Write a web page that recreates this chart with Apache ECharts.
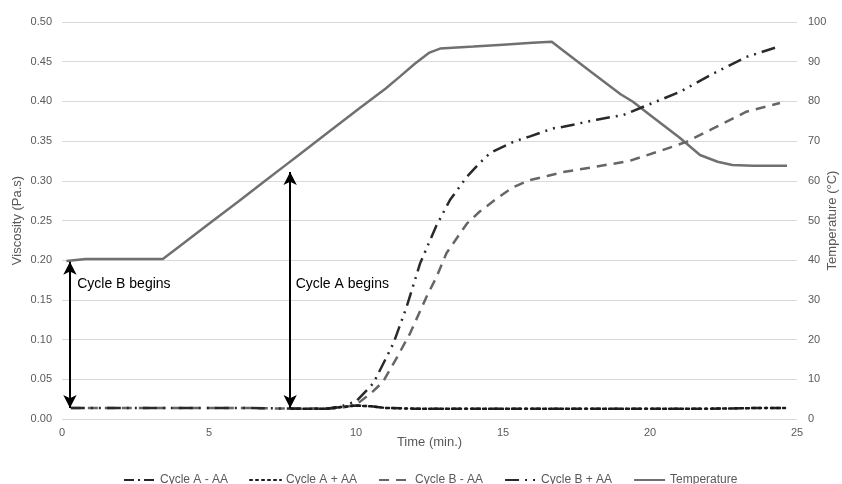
<!DOCTYPE html>
<html>
<head>
<meta charset="utf-8">
<script src="https://cdn.jsdelivr.net/npm/echarts@6/dist/echarts.min.js"></script>
<style>html,body{margin:0;padding:0;background:#fff}#c{width:842px;height:484px}</style>
</head>
<body>
<div id="c"></div>
<script>
// ---- data ----
var xTicks = [0, 5, 10, 15, 20, 25];

var aMinusTime = [7.8, 8.5, 9.0, 9.5, 10.0, 10.5, 11.0, 12, 14, 16, 18, 20, 22, 24, 24.6];
var aMinusVisc = [0.013, 0.013, 0.013, 0.015, 0.017, 0.016, 0.014, 0.013, 0.013, 0.013, 0.013, 0.013, 0.013, 0.014, 0.014];

var aPlusTime = [7.8, 8.5, 9.0, 9.5, 10.0, 10.5, 11.0, 12, 14, 16, 18, 20, 22, 24, 24.7];
var aPlusVisc = [0.013, 0.013, 0.013, 0.015, 0.017, 0.016, 0.014, 0.013, 0.013, 0.013, 0.013, 0.013, 0.013, 0.014, 0.014];

var bMinusTime = [0.3, 2, 4, 6, 8, 9.0, 9.5, 10.0, 10.5, 10.92, 11.4, 11.84, 12.4, 12.74, 13.08, 13.77, 14.2, 14.8, 15.35, 15.92, 16.5, 17.05, 18.19, 19.3, 20.45, 21.24, 22.15, 23.28, 24.42];
var bMinusVisc = [0.014, 0.014, 0.014, 0.014, 0.013, 0.013, 0.014, 0.018, 0.032, 0.047, 0.078, 0.108, 0.154, 0.179, 0.209, 0.246, 0.261, 0.278, 0.292, 0.301, 0.306, 0.311, 0.318, 0.325, 0.339, 0.349, 0.366, 0.387, 0.398];

var bPlusTime = [0.3, 2, 4, 6, 8, 9.0, 9.5, 10.0, 10.59, 11.27, 11.72, 12.18, 12.74, 13.2, 13.77, 14.2, 14.56, 15.35, 15.92, 16.7, 17.05, 18.19, 19.1, 19.89, 21.02, 22.15, 23.28, 24.37];
var bPlusVisc = [0.014, 0.014, 0.014, 0.014, 0.013, 0.013, 0.016, 0.022, 0.045, 0.095, 0.141, 0.196, 0.244, 0.276, 0.305, 0.322, 0.335, 0.349, 0.356, 0.366, 0.368, 0.377, 0.383, 0.395, 0.412, 0.435, 0.456, 0.469];

var tempTime = [0.15, 0.8, 3.43, 4, 5, 6, 7, 7.65, 8, 9, 10.14, 11, 11.5, 12, 12.5, 12.86, 14, 15, 16, 16.66, 17, 18, 19, 19.42, 20, 21, 21.7, 22.3, 22.8, 23.5, 24.66];
var tempValue = [39.8, 40.3, 40.3, 43.5, 49.2, 54.8, 60.5, 64.2, 66.2, 71.9, 78.4, 83.2, 86.3, 89.5, 92.3, 93.3, 93.8, 94.3, 94.8, 95.0, 93.1, 87.4, 81.8, 79.9, 76.6, 70.9, 66.5, 64.8, 64.0, 63.8, 63.8];

var seriesNames = ['Cycle A - AA', 'Cycle A + AA', 'Cycle B - AA', 'Cycle B + AA', 'Temperature'];
var annotTexts = ['Cycle B begins', 'Cycle A begins'];
var arrowB = {t: 0.27, from: 0.198, to: 0.014};
var arrowA = {t: 7.76, from: 0.311, to: 0.014};

function pairs(xs, ys) { return xs.map(function (x, i) { return [x, ys[i]]; }); }

var font = 'Liberation Sans, Arial, Helvetica, sans-serif';
var chart = echarts.init(document.getElementById('c'), null, {renderer: 'canvas'});

var option = {
  backgroundColor: '#fff',
  animation: false,
  textStyle: {fontFamily: font},
  grid: {left: 62, right: 45, top: 22, bottom: 65, containLabel: false, outerBoundsMode: 'none'},
  legend: {
    data: seriesNames,
    left: 118, top: 469,
    itemWidth: 31, itemHeight: 10, itemGap: 21,
    itemStyle: {color: 'rgba(0,0,0,0)', borderWidth: 0, opacity: 0},
    textStyle: {fontSize: 12, color: '#595959', fontFamily: font}
  },
  xAxis: {
    type: 'value', min: 0, max: 25, interval: 5,
    name: 'Time (min.)', nameLocation: 'middle', nameGap: 17, nameMoveOverlap: false,
    nameTextStyle: {fontSize: 13, color: '#595959'},
    axisLine: {show: false}, axisTick: {show: false},
    axisLabel: {fontSize: 11, color: '#595959', margin: 8,
      formatter: function (v) { return xTicks.indexOf(v) >= 0 ? String(v) : ''; }},
    splitLine: {show: false}
  },
  yAxis: [{
    type: 'value', min: 0, max: 0.5, interval: 0.05, position: 'left',
    name: 'Viscosity (Pa.s)', nameLocation: 'middle', nameGap: 38, nameRotate: 90, nameMoveOverlap: false,
    nameTextStyle: {fontSize: 13, color: '#595959'},
    axisLine: {show: false}, axisTick: {show: false},
    axisLabel: {fontSize: 11, color: '#595959', margin: 10, formatter: function (v) { return v.toFixed(2); }},
    splitLine: {lineStyle: {color: '#d9d9d9', width: 1}}
  }, {
    type: 'value', min: 0, max: 100, interval: 10, position: 'right',
    name: 'Temperature (°C)', nameLocation: 'middle', nameGap: 29, nameRotate: 90, nameMoveOverlap: false,
    nameTextStyle: {fontSize: 13, color: '#595959'},
    axisLine: {show: false}, axisTick: {show: false},
    axisLabel: {fontSize: 11, color: '#595959', margin: 11},
    splitLine: {show: false}
  }],
  series: [
    {
      name: 'Cycle A - AA', type: 'line', yAxisIndex: 0, symbol: 'none', z: 3,
      data: pairs(aMinusTime, aMinusVisc),
      itemStyle: {color: '#262626'},
      lineStyle: {color: '#262626', width: 2.5, type: [10, 4, 2, 4]}
    },
    {
      name: 'Cycle A + AA', type: 'line', yAxisIndex: 0, symbol: 'none', z: 4,
      data: pairs(aPlusTime, aPlusVisc),
      itemStyle: {color: '#1a1a1a'},
      lineStyle: {color: '#1a1a1a', width: 2.5, type: [2, 4], cap: 'round'}
    },
    {
      name: 'Cycle B - AA', type: 'line', yAxisIndex: 0, symbol: 'none', z: 3,
      data: pairs(bMinusTime, bMinusVisc),
      itemStyle: {color: '#666666'},
      lineStyle: {color: '#666666', width: 2.5, type: [10, 7]}
    },
    {
      name: 'Cycle B + AA', type: 'line', yAxisIndex: 0, symbol: 'none', z: 3,
      data: pairs(bPlusTime, bPlusVisc),
      itemStyle: {color: '#2a2a2a'},
      lineStyle: {color: '#2a2a2a', width: 2.5, type: [14, 6, 2, 6, 2, 6]},
      markLine: {
        silent: true, symbol: ['arrow', 'arrow'], symbolSize: [10, 13],
        label: {show: false},
        lineStyle: {color: '#000', width: 2, type: 'solid'},
        data: [
          [{coord: [arrowB.t, arrowB.from]}, {coord: [arrowB.t, arrowB.to]}],
          [{coord: [arrowA.t, arrowA.from]}, {coord: [arrowA.t, arrowA.to]}]
        ]
      },
      markPoint: {
        silent: true, symbol: 'circle', symbolSize: 1,
        itemStyle: {color: 'rgba(0,0,0,0)'},
        label: {show: true, position: 'right', distance: 0, fontSize: 14, color: '#000', fontFamily: font,
          formatter: function (p) { return p.name; }},
        data: [
          {name: annotTexts[0], coord: [0.5, 0.170]},
          {name: annotTexts[1], coord: [7.93, 0.170]}
        ]
      }
    },
    {
      name: 'Temperature', type: 'line', yAxisIndex: 1, symbol: 'none', z: 2,
      data: pairs(tempTime, tempValue),
      itemStyle: {color: '#707070'},
      lineStyle: {color: '#707070', width: 2.5, type: 'solid'}
    }
  ]
};
chart.setOption(option);
</script>
</body>
</html>
